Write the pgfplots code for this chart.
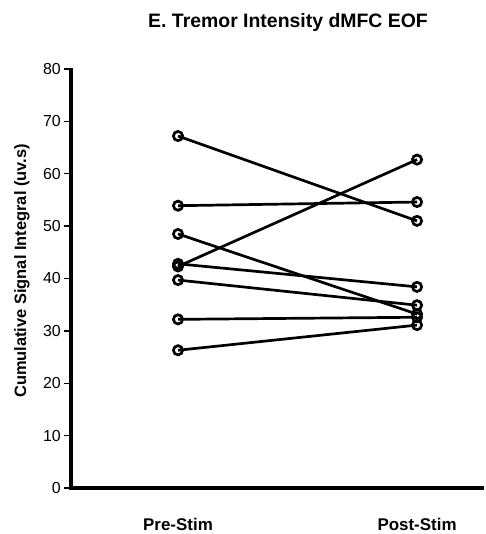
\documentclass[border=0pt]{standalone}
\usepackage{pgfplots}
\pgfplotsset{compat=1.18}
\usepackage{fontspec}
\setmainfont{Liberation Sans}
\pgfplotsset{subj/.style={black, solid, line width=2.7bp, mark=o, mark size=4.6bp, mark options={solid, line width=2.7bp, fill=none}}}
\begin{document}
\begin{tikzpicture}[x=1bp,y=1bp]
\path[use as bounding box] (0,0) rectangle (486,534);
\begin{axis}[
  at={(71bp,46bp)}, anchor=south west,
  scale only axis, width=412bp, height=419bp,
  xmin=-0.4477, xmax=1.276, ymin=0, ymax=80,
  axis x line=bottom, axis y line=left,
  axis line style={-, draw=none},
  xtick={0,1}, xticklabels={Pre-Stim,Post-Stim},
  xtick style={draw=none},
  xticklabel style={anchor=base, yshift=-36bp, font=\fontsize{17}{17}\selectfont\bfseries},
  ytick={0,10,...,80},
  ytick style={line width=1.3bp, black},
  tick align=outside, major tick length=7bp,
  yticklabel style={anchor=east, inner sep=0pt, xshift=-3bp, font=\fontsize{16}{16}\selectfont},
  /pgf/number format/assume math mode=true,
  clip=false,
]
\addplot[subj] coordinates {(0,67.2) (1,51.0)};
\addplot[subj] coordinates {(0,53.9) (1,54.6)};
\addplot[subj] coordinates {(0,48.5) (1,33.2)};
\addplot[subj] coordinates {(0,42.3) (1,62.7)};
\addplot[subj] coordinates {(0,42.8) (1,38.4)};
\addplot[subj] coordinates {(0,39.7) (1,34.9)};
\addplot[subj] coordinates {(0,32.2) (1,32.6)};
\addplot[subj] coordinates {(0,26.3) (1,31.1)};
\end{axis}
\draw[line width=3.2bp, black, line join=miter] (71,466) -- (71,46) -- (484,46);
\node[font=\fontsize{19.5}{19.5}\selectfont\bfseries] at (288,512) {E. Tremor Intensity dMFC EOF};
\node[rotate=90, font=\fontsize{16.5}{16.5}\selectfont\bfseries] at (22,263) {Cumulative Signal Integral (uv.s)};
\end{tikzpicture}
\end{document}
